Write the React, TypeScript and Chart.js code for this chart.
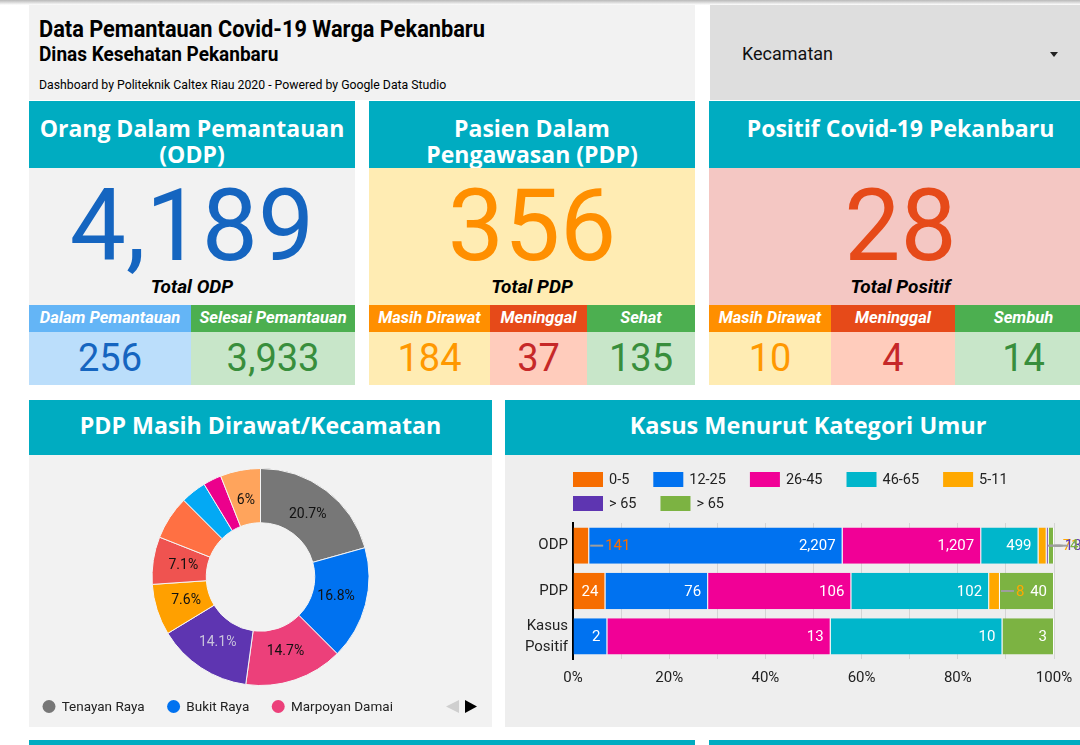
import React, { useEffect, useRef } from 'react';
import { Chart, registerables } from 'chart.js';
Chart.register(...registerables);

// ---------------- data ----------------
const ODP_TOTAL = 4189;
const ODP_PARTS = [256, 3933];
const ODP_PART_LABELS = ['Dalam Pemantauan', 'Selesai Pemantauan'];
const PDP_TOTAL = 356;
const PDP_PARTS = [184, 37, 135];
const PDP_PART_LABELS = ['Masih Dirawat', 'Meninggal', 'Sehat'];
const POS_TOTAL = 28;
const POS_PARTS = [10, 4, 14];
const POS_PART_LABELS = ['Masih Dirawat', 'Meninggal', 'Sembuh'];

const KECAMATAN = [
  'Tenayan Raya', 'Bukit Raya', 'Marpoyan Damai', 'Payung Sekaki', 'Tampan',
  'Sukajadi', 'Rumbai Pesisir', 'Lima Puluh', 'Senapelan', 'Pekanbaru Kota',
];
const PDP_DIRAWAT_PER_KECAMATAN = [38, 31, 27, 26, 14, 13, 12, 7, 5, 11];
const UNLABELED_SLICES = [6, 7, 8];
const LEGEND_VISIBLE_COUNT = 3;

const AGE_GROUPS = ['0-5', '12-25', '26-45', '46-65', '5-11', '> 65', '> 65'];
const CASE_CATEGORIES = ['ODP', 'PDP', ['Kasus', 'Positif']];
const ODP_BY_AGE = [141, 2207, 1207, 499, 71, 18, 46];
const PDP_BY_AGE = [24, 76, 106, 102, 8, 0, 40];
const POSITIF_BY_AGE = [0, 2, 13, 10, 0, 0, 3];
const PCT_GRID_STEP = 10;
const PCT_LABEL_STEP = 20;

// ---------------- styles ----------------
const TEAL = '#00acc1';
const SLICE_COLORS = ['#777777', '#0072f0', '#ec407a', '#5e35b1', '#ffa000', '#ef5350', '#ff7043', '#03a9f4', '#ec008c', '#ffa45c'];
const SLICE_LABEL_COLORS = ['#111', '#111', '#111', '#c9c4dc', '#111', '#111', '#111', '#111', '#111', '#111'];
const AGE_COLORS = ['#f66d00', '#0072f0', '#f10096', '#00b6cb', '#ffa800', '#5e35b1', '#7cb342'];

const fmt = (n: number) => n.toLocaleString('en-US');
const sum = (a: number[]) => a.reduce((s, v) => s + v, 0);

type TProps = {
  x: number; w?: number; base: number; size: number; font?: string; weight?: number;
  italic?: boolean; color?: string; align?: 'left' | 'center'; lh?: number; sx?: number; children: any;
};
const T = ({ x, w, base, size, font = 'Roboto', weight = 400, italic = false, color = '#000', align = 'center', lh, sx = 1, children }: TProps) => {
  const k = font.startsWith('Open') ? 0.388 : 0.3415;
  const L = lh ?? size;
  const top = base - (L / 2 + k * size);
  return (
    <div
      style={{
        position: 'absolute', left: x, top, width: w, fontFamily: `"${font}", sans-serif`, fontSize: size,
        fontWeight: weight, fontStyle: italic ? 'italic' : 'normal', color, textAlign: align,
        lineHeight: L + 'px', whiteSpace: 'pre', transform: sx !== 1 ? `scaleX(${sx})` : undefined,
        transformOrigin: align === 'left' ? 'left center' : 'center center',
      }}
    >
      {children}
    </div>
  );
};

const R = ({ x, y, w, h, bg, style }: { x: number; y: number; w: number; h: number; bg: string; style?: any }) => (
  <div style={{ position: 'absolute', left: x, top: y, width: w, height: h, background: bg, ...style }} />
);

type Card = {
  x: number; w: number; title: string; bodyBg: string; total: number; totalColor: string; totalLabel: string;
  parts: number[]; partLabels: string[]; edges: number[]; headBg: string[]; bodyBgs: string[]; valColors: string[];
};

const CARDS: Card[] = [
  {
    x: 29, w: 326, title: 'Orang Dalam Pemantauan\n(ODP)', bodyBg: '#f2f2f2', total: ODP_TOTAL, totalColor: '#1565c0',
    totalLabel: 'Total ODP', parts: ODP_PARTS, partLabels: ODP_PART_LABELS, edges: [29, 191, 355],
    headBg: ['#64b5f6', '#4caf50'], bodyBgs: ['#bbdefb', '#c8e6c9'], valColors: ['#1565c0', '#388e3c'],
  },
  {
    x: 369, w: 326, title: 'Pasien Dalam\nPengawasan (PDP)', bodyBg: '#ffecb3', total: PDP_TOTAL, totalColor: '#ff8f00',
    totalLabel: 'Total PDP', parts: PDP_PARTS, partLabels: PDP_PART_LABELS, edges: [369, 490, 587, 695],
    headBg: ['#ff8f00', '#e64a19', '#4caf50'], bodyBgs: ['#ffecb3', '#ffccbc', '#c8e6c9'], valColors: ['#ff9800', '#c62828', '#388e3c'],
  },
  {
    x: 709, w: 383, title: 'Positif Covid-19 Pekanbaru', bodyBg: '#f4c7c3', total: POS_TOTAL, totalColor: '#e64a19',
    totalLabel: 'Total Positif', parts: POS_PARTS, partLabels: POS_PART_LABELS, edges: [709, 831, 955, 1092],
    headBg: ['#ff8f00', '#e64a19', '#4caf50'], bodyBgs: ['#ffecb3', '#ffccbc', '#c8e6c9'], valColors: ['#ff9800', '#c62828', '#388e3c'],
  },
];

function KpiCard({ c }: { c: Card }) {
  return (
    <>
      <R x={c.x} y={101} w={c.w} h={67} bg={TEAL} />
      <T x={c.x} w={c.w} base={137} size={23} font="Open Sans" weight={700} color="#fff" lh={26}>{c.title}</T>
      <R x={c.x} y={168} w={c.w} h={137} bg={c.bodyBg} />
      <T x={c.x} w={c.w} base={260} size={100} color={c.totalColor}>{fmt(c.total)}</T>
      <T x={c.x} w={c.w} base={293} size={19} weight={700} italic>{c.totalLabel}</T>
      {c.parts.map((v, i) => {
        const x0 = c.edges[i];
        const w = c.edges[i + 1] - x0;
        return (
          <React.Fragment key={i}>
            <R x={x0} y={305} w={w} h={27} bg={c.headBg[i]} />
            <T x={x0} w={w} base={324} size={16.5} weight={700} italic color="#fff">{c.partLabels[i]}</T>
            <R x={x0} y={332} w={w} h={53} bg={c.bodyBgs[i]} />
            <T x={x0} w={w} base={371} size={38} color={c.valColors[i]}>{fmt(v)}</T>
          </React.Fragment>
        );
      })}
    </>
  );
}

function DonutChart() {
  const ref = useRef<HTMLCanvasElement>(null);
  useEffect(() => {
    const total = sum(PDP_DIRAWAT_PER_KECAMATAN);
    const plugin = {
      id: 'donutExtras',
      afterDatasetsDraw(chart: any) {
        const ctx = chart.ctx as CanvasRenderingContext2D;
        const meta = chart.getDatasetMeta(0);
        ctx.save();
        ctx.font = '14px Roboto';
        ctx.textAlign = 'center';
        ctx.textBaseline = 'middle';
        meta.data.forEach((arc: any, i: number) => {
          if (UNLABELED_SLICES.includes(i)) return;
          const mid = (arc.startAngle + arc.endAngle) / 2;
          const r = arc.innerRadius + 0.44 * (arc.outerRadius - arc.innerRadius);
          const pct = Math.round((PDP_DIRAWAT_PER_KECAMATAN[i] / total) * 1000) / 10;
          ctx.fillStyle = SLICE_LABEL_COLORS[i];
          ctx.fillText(pct + '%', arc.x + r * Math.cos(mid), arc.y + r * Math.sin(mid));
        });
        // legend (first page)
        const ly = 251.5;
        let x = 20;
        ctx.font = '13.5px Roboto';
        ctx.textAlign = 'left';
        for (let i = 0; i < LEGEND_VISIBLE_COUNT; i++) {
          ctx.fillStyle = SLICE_COLORS[i];
          ctx.beginPath();
          ctx.arc(x, ly, 6.5, 0, Math.PI * 2);
          ctx.fill();
          ctx.fillStyle = '#222';
          ctx.fillText(KECAMATAN[i], x + 12.7, ly + 1);
          x += 12.7 + ctx.measureText(KECAMATAN[i]).width + 29;
        }
        // pager arrows
        ctx.fillStyle = '#cfcfcf';
        ctx.beginPath(); ctx.moveTo(417, ly); ctx.lineTo(430, ly - 6.5); ctx.lineTo(430, ly + 6.5); ctx.closePath(); ctx.fill();
        ctx.fillStyle = '#000';
        ctx.beginPath(); ctx.moveTo(448, ly); ctx.lineTo(436, ly - 6.5); ctx.lineTo(436, ly + 6.5); ctx.closePath(); ctx.fill();
        ctx.restore();
      },
    };
    const chart = new Chart(ref.current!, {
      type: 'doughnut',
      data: {
        labels: KECAMATAN,
        datasets: [{ data: PDP_DIRAWAT_PER_KECAMATAN, backgroundColor: SLICE_COLORS, borderColor: '#f4f4f4', borderWidth: 1 }],
      },
      options: {
        responsive: false, animation: false, devicePixelRatio: 1, cutout: '50%',
        layout: { padding: { top: 13, bottom: 41, left: 0, right: 0 } },
        plugins: { legend: { display: false }, tooltip: { enabled: false } },
      },
      plugins: [plugin],
    } as any);
    return () => chart.destroy();
  }, []);
  return <canvas ref={ref} width={463} height={272} style={{ position: 'absolute', left: 29, top: 455, display: 'block' }} />;
}

function AgeBarChart() {
  const ref = useRef<HTMLCanvasElement>(null);
  useEffect(() => {
    const rows = [ODP_BY_AGE, PDP_BY_AGE, POSITIF_BY_AGE];
    const totals = rows.map(sum);
    const datasets = AGE_GROUPS.map((g, i) => ({
      label: g,
      data: rows.map((r, j) => (r[i] / totals[j]) * 100),
      rawValues: rows.map((r) => r[i]),
      backgroundColor: AGE_COLORS[i],
      borderColor: 'rgba(255,255,255,0.85)',
      borderWidth: { top: 0, bottom: 0, left: 0, right: 1 },
      barPercentage: 1,
      categoryPercentage: 0.8,
    }));
    const plugin = {
      id: 'barExtras',
      afterDraw(chart: any) {
        const ctx = chart.ctx as CanvasRenderingContext2D;
        const area = chart.chartArea;
        ctx.save();
        // value labels
        ctx.font = '15px Roboto';
        ctx.textBaseline = 'middle';
        chart.data.datasets.forEach((ds: any, di: number) => {
          const meta = chart.getDatasetMeta(di);
          meta.data.forEach((bar: any, i: number) => {
            const raw = ds.rawValues[i];
            if (!raw) return;
            const txt = fmt(raw);
            const tw = ctx.measureText(txt).width;
            const segW = bar.x - bar.base;
            if (tw + 12 <= segW) {
              ctx.textAlign = 'right';
              ctx.fillStyle = '#fff';
              ctx.fillText(txt, bar.x - 7, bar.y + 1);
            } else {
              ctx.strokeStyle = '#9e9e9e';
              ctx.lineWidth = 2;
              ctx.beginPath();
              ctx.moveTo(bar.x + 1, bar.y);
              ctx.lineTo(bar.x + 14, bar.y);
              ctx.stroke();
              ctx.textAlign = 'left';
              ctx.fillStyle = ds.backgroundColor;
              ctx.fillText(txt, bar.x + 16, bar.y + 1);
            }
          });
        });
        // legend
        ctx.font = '14.5px Roboto';
        ctx.textAlign = 'left';
        const maxX = area.right + 26;
        let x = area.left;
        let y = 24.5;
        chart.data.datasets.forEach((ds: any) => {
          const w = 36 + ctx.measureText(ds.label).width;
          if (x > area.left && x + w > maxX) {
            x = area.left;
            y += 24;
          }
          ctx.fillStyle = ds.backgroundColor;
          ctx.fillRect(x, y - 7.5, 30, 15);
          ctx.fillStyle = '#222';
          ctx.fillText(ds.label, x + 36, y + 1);
          x += w + 24;
        });
        ctx.restore();
      },
    };
    const chart = new Chart(ref.current!, {
      type: 'bar',
      data: { labels: CASE_CATEGORIES, datasets },
      options: {
        indexAxis: 'y', responsive: false, animation: false, devicePixelRatio: 1,
        layout: { padding: { top: 68, bottom: 38, left: 0, right: 57 } },
        plugins: { legend: { display: false }, tooltip: { enabled: false } },
        scales: {
          x: {
            stacked: true, min: 0, max: 100,
            ticks: {
              stepSize: PCT_GRID_STEP, autoSkip: false, maxRotation: 0, padding: 10,
              font: { family: 'Roboto', size: 15 }, color: '#222',
              callback: (v: any) => (v % PCT_LABEL_STEP === 0 ? v + '%' : ''),
            },
            grid: { color: '#d4d4d4', drawTicks: false, lineWidth: 1 },
            border: { display: false },
            afterFit: (s: any) => { s.height = 30; },
          },
          y: {
            stacked: true,
            grid: { display: false, drawTicks: false },
            border: { display: true, color: '#000', width: 2 },
            ticks: { font: { family: 'Roboto', size: 15, lineHeight: 1.4 }, color: '#222', padding: 5 },
            afterFit: (s: any) => { s.width = 68; },
          },
        },
      },
      plugins: [plugin],
    } as any);
    return () => chart.destroy();
  }, []);
  return <canvas ref={ref} width={606} height={272} style={{ position: 'absolute', left: 505, top: 455, display: 'block' }} />;
}

export default function App() {
  useEffect(() => {
    document.body.style.margin = '0';
  }, []);
  return (
    <div style={{ position: 'absolute', left: 0, top: 0, width: 1080, height: 745, overflow: 'hidden', background: '#fff', fontFamily: 'Roboto, sans-serif' }}>
      <R x={0} y={0} w={1080} h={5} bg="linear-gradient(#b8b8b8, #ffffff)" />
      {/* header */}
      <R x={29} y={5} w={666} h={95} bg="#f2f2f2" />
      <T x={39} base={37} size={23} weight={700} align="left" sx={0.946}>Data Pemantauan Covid-19 Warga Pekanbaru</T>
      <T x={39} base={61} size={20} weight={700} align="left" sx={0.95}>Dinas Kesehatan Pekanbaru</T>
      <T x={39} base={89} size={13} align="left" sx={0.943}>Dashboard by Politeknik Caltex Riau 2020 - Powered by Google Data Studio</T>
      {/* dropdown */}
      <R x={710} y={5} w={382} h={95} bg="#dedede" />
      <T x={742} base={60} size={18} align="left" color="#111">Kecamatan</T>
      <div style={{ position: 'absolute', left: 1050, top: 52, width: 0, height: 0, borderLeft: '4px solid transparent', borderRight: '4px solid transparent', borderTop: '5px solid #222' }} />
      {/* KPI cards */}
      {CARDS.map((c, i) => <KpiCard key={i} c={c} />)}
      {/* donut panel */}
      <R x={29} y={400} w={463} h={55} bg={TEAL} />
      <T x={29} w={463} base={435} size={23.2} font="Open Sans" weight={700} color="#fff">PDP Masih Dirawat/Kecamatan</T>
      <R x={29} y={455} w={463} h={272} bg="#f2f2f2" />
      <DonutChart />
      {/* bar panel */}
      <R x={505} y={400} w={606} h={55} bg={TEAL} />
      <T x={505} w={606} base={435} size={23.5} font="Open Sans" weight={700} color="#fff">Kasus Menurut Kategori Umur</T>
      <R x={505} y={455} w={606} h={272} bg="#eeeeee" />
      <AgeBarChart />
      {/* next row strips */}
      <R x={29} y={740} w={666} h={5} bg={TEAL} />
      <R x={709} y={740} w={383} h={5} bg={TEAL} />
    </div>
  );
}
